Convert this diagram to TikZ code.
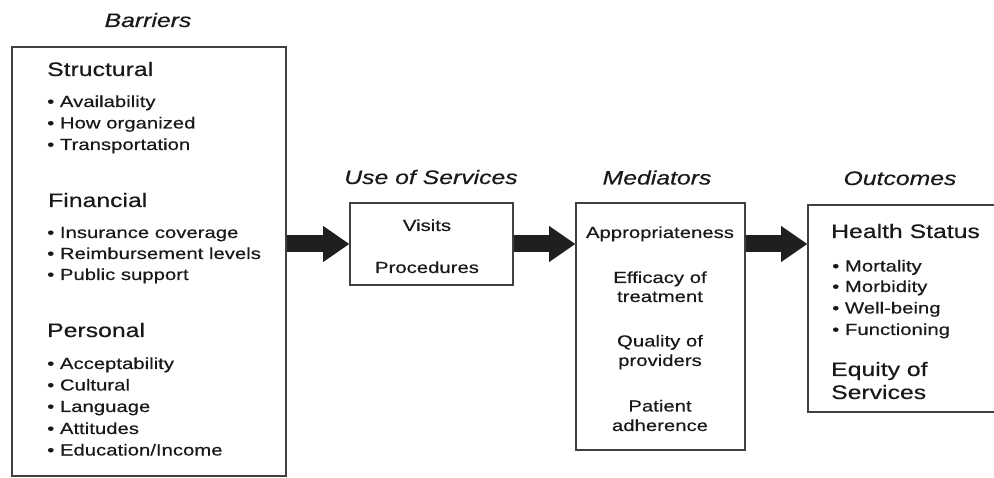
\documentclass[tikz,border=0pt]{standalone}
\usepackage{fontspec}
\setmainfont{Liberation Sans}[FakeStretch=1.27, FakeBold=0.4]
\usepackage{tikz}
\usetikzlibrary{arrows.meta}
\tikzset{
    panel/.style={draw=black!75, line width=1.6pt, fill=white, inner sep=0pt},
    title/.style={font=\fontsize{19.5}{23}\selectfont\itshape, text=black!90, inner sep=0pt, anchor=base},
    heading/.style={font=\fontsize{19.5}{23}\selectfont, text=black!90, inner sep=0pt, anchor=base west},
    item/.style={font=\fontsize{16}{20}\selectfont, text=black!90, inner sep=0pt, anchor=base west},
    citem/.style={item, anchor=base},
    bigarrow/.style={line width=17pt, draw=black!88, -{Triangle[length=26pt, width=36pt, line width=0pt]}}
}

\begin{document}
\begin{tikzpicture}[x=1pt, y=-1pt]
\useasboundingbox (0,0) rectangle (994,478);
\fill[white] (0,0) rectangle (994,478);

% Boxes
\node[panel, minimum width=274pt, minimum height=429pt] (bar) at (149,261.5) {};
\node[panel, minimum width=163pt, minimum height=82pt] (use) at (431.5,244) {};
\node[panel, minimum width=169pt, minimum height=247pt] (med) at (660.5,326.5) {};
\node[panel, minimum width=194pt, minimum height=207pt] (out) at (905,308.5) {};

% Titles
\node[title] (barT) at (148,27) {Barriers};
\node[title] (useT) at (431,184) {Use of Services};
\node[title] (medT) at (657,184.5) {Mediators};
\node[title] (outT) at (900,185) {Outcomes};

% Barriers
\node[heading] (struc) at (47,76) {Structural};
\node[item] (s1) at (47,107) {• Availability};
\node[item] (s2) at (47,128.5) {• How organized};
\node[item] (s3) at (47,150) {• Transportation};
\node[heading] (fin) at (48,207) {Financial};
\node[item] (f1) at (47,238) {• Insurance coverage};
\node[item] (f2) at (47,259) {• Reimbursement levels};
\node[item] (f3) at (47,280) {• Public support};
\node[heading] (pers) at (47,337) {Personal};
\node[item] (p1) at (47,369) {• Acceptability};
\node[item] (p2) at (47,390.5) {• Cultural};
\node[item] (p3) at (47,412) {• Language};
\node[item] (p4) at (47,434) {• Attitudes};
\node[item] (p5) at (47,455.5) {• Education/Income};

% Use of services
\node[citem] (vis) at (427,231) {Visits};
\node[citem] (proc) at (427,273) {Procedures};

% Mediators
\node[citem] (m1) at (660,238) {Appropriateness};
\node[citem] (m2) at (660,283) {Efficacy of};
\node[citem] (m3) at (660,302) {treatment};
\node[citem] (m4) at (660,346.5) {Quality of};
\node[citem] (m5) at (660,366) {providers};
\node[citem] (m6) at (660,411.5) {Patient};
\node[citem] (m7) at (660,431) {adherence};

% Outcomes
\node[heading] (hs) at (831,238) {Health Status};
\node[item] (o1) at (832,271.5) {• Mortality};
\node[item] (o2) at (832,292) {• Morbidity};
\node[item] (o3) at (832,313.5) {• Well-being};
\node[item] (o4) at (832,335) {• Functioning};
\node[heading] (eq1) at (831,376) {Equity of};
\node[heading] (eq2) at (831,399) {Services};

% Arrows
\draw[bigarrow] (bar.east |- use.west) -- (use.west);
\draw[bigarrow] (use.east) -- (med.west |- use.east);
\draw[bigarrow] (med.east |- use.east) -- (out.west |- use.east);
\end{tikzpicture}
\end{document}
